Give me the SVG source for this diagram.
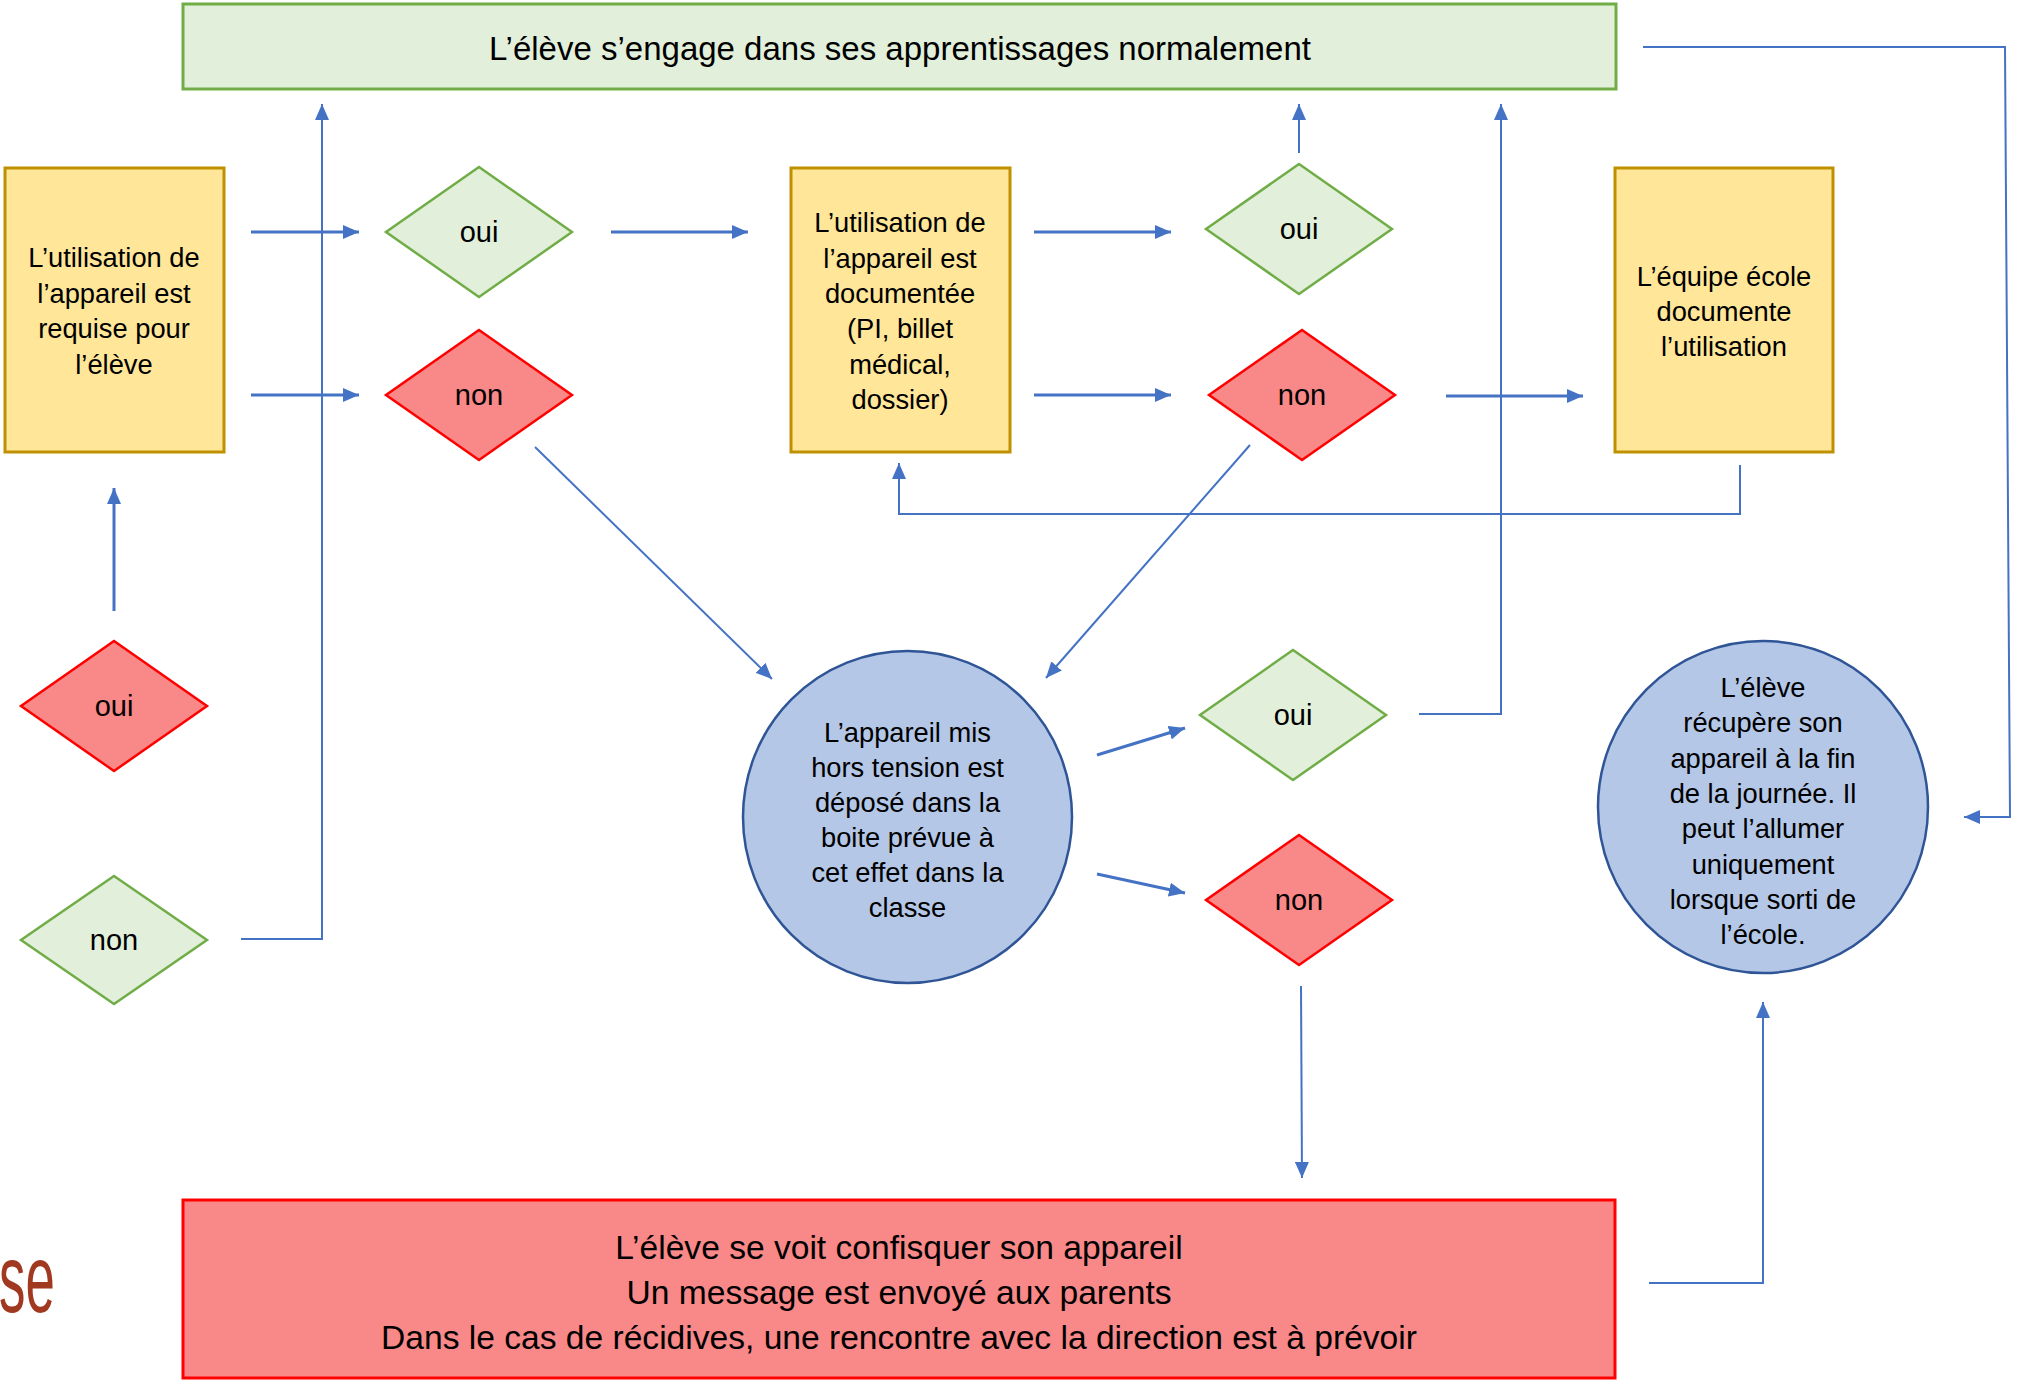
<svg xmlns="http://www.w3.org/2000/svg" width="2023" height="1383" viewBox="0 0 2023 1383">
<style>
text{font-family:"Liberation Sans",Arial,sans-serif;fill:#000;text-anchor:middle}
.t27{font-size:27.3px}
.t29{font-size:29px}
.t33{font-size:33px}
.t34{font-size:33.6px}
.gbox{fill:#E2EFDA;stroke:#70AD47;stroke-width:3}
.obox{fill:#FFE699;stroke:#BF9000;stroke-width:3}
.rbox{fill:#F98888;stroke:#FF0000;stroke-width:3}
.gd{fill:#E2EFDA;stroke:#70AD47;stroke-width:2.5}
.rd{fill:#F98888;stroke:#FF0000;stroke-width:2.5}
.el{fill:#B4C7E7;stroke:#2F5597;stroke-width:2.5}
.c{fill:none;stroke:#4472C4;stroke-width:3}
.ct{fill:none;stroke:#4472C4;stroke-width:2}
</style>
<defs>
<marker id="ah" markerUnits="userSpaceOnUse" markerWidth="16" markerHeight="14" refX="16" refY="7" orient="auto">
<path d="M0,0 L16,7 L0,14 z" fill="#4472C4"/>
</marker>
</defs>

<g id="top">
<rect class="gbox" x="183" y="4" width="1433" height="85"/>
<text class="t33" x="900" y="60">L’élève s’engage dans ses apprentissages  normalement</text>
</g>

<g id="box-requise">
<rect class="obox" x="5" y="168" width="219" height="284"/>
<text class="t27" x="114" y="267">L’utilisation de</text>
<text class="t27" x="114" y="302.5">l’appareil est</text>
<text class="t27" x="114" y="338">requise pour</text>
<text class="t27" x="114" y="373.5">l’élève</text>
</g>

<g id="box-documentee">
<rect class="obox" x="791" y="168" width="219" height="284"/>
<text class="t27" x="900" y="232">L’utilisation de</text>
<text class="t27" x="900" y="267.5">l’appareil est</text>
<text class="t27" x="900" y="303">documentée</text>
<text class="t27" x="900" y="338">(PI, billet</text>
<text class="t27" x="900" y="373.5">médical,</text>
<text class="t27" x="900" y="409">dossier)</text>
</g>

<g id="box-equipe">
<rect class="obox" x="1615" y="168" width="218" height="284"/>
<text class="t27" x="1724" y="286">L’équipe école</text>
<text class="t27" x="1724" y="321">documente</text>
<text class="t27" x="1724" y="356">l’utilisation</text>
</g>

<g id="d-oui-1">
<polygon class="gd" points="479,167 572,232 479,297 386,232"/>
<text class="t29" x="479" y="242">oui</text>
</g>
<g id="d-non-1">
<polygon class="rd" points="479,330 572,395 479,460 386,395"/>
<text class="t29" x="479" y="405">non</text>
</g>
<g id="d-oui-2">
<polygon class="gd" points="1299,164 1392,229 1299,294 1206,229"/>
<text class="t29" x="1299" y="239">oui</text>
</g>
<g id="d-non-2">
<polygon class="rd" points="1302,330 1395,395 1302,460 1209,395"/>
<text class="t29" x="1302" y="405">non</text>
</g>
<g id="d-oui-3">
<polygon class="gd" points="1293,650 1386,715 1293,780 1200,715"/>
<text class="t29" x="1293" y="725">oui</text>
</g>
<g id="d-non-3">
<polygon class="rd" points="1299,835 1392,900 1299,965 1206,900"/>
<text class="t29" x="1299" y="910">non</text>
</g>
<g id="d-oui-left">
<polygon class="rd" points="114,641 207,706 114,771 21,706"/>
<text class="t29" x="114" y="716">oui</text>
</g>
<g id="d-non-left">
<polygon class="gd" points="114,876 207,940 114,1004 21,940"/>
<text class="t29" x="114" y="950">non</text>
</g>

<g id="circle-boite">
<ellipse class="el" cx="907.5" cy="817" rx="164.5" ry="166"/>
<text class="t27" x="907.5" y="742">L’appareil mis</text>
<text class="t27" x="907.5" y="777">hors tension est</text>
<text class="t27" x="907.5" y="812">déposé dans la</text>
<text class="t27" x="907.5" y="847">boite prévue à</text>
<text class="t27" x="907.5" y="882">cet effet dans la</text>
<text class="t27" x="907.5" y="917">classe</text>
</g>

<g id="circle-recupere">
<ellipse class="el" cx="1763" cy="807" rx="165" ry="166"/>
<text class="t27" x="1763" y="697">L’élève</text>
<text class="t27" x="1763" y="732">récupère son</text>
<text class="t27" x="1763" y="767.5">appareil à la fin</text>
<text class="t27" x="1763" y="803">de la journée. Il</text>
<text class="t27" x="1763" y="838">peut l’allumer</text>
<text class="t27" x="1763" y="873.5">uniquement</text>
<text class="t27" x="1763" y="909">lorsque sorti de</text>
<text class="t27" x="1763" y="944">l’école.</text>
</g>

<g id="box-confisque">
<rect class="rbox" x="183" y="1200" width="1432" height="178"/>
<text class="t34" x="899" y="1259">L’élève se voit confisquer son appareil</text>
<text class="t34" x="899" y="1304">Un message est envoyé aux parents</text>
<text class="t34" x="899" y="1349">Dans le cas de récidives, une rencontre avec la direction est à prévoir</text>
</g>

<g id="fragment">
<text transform="translate(-1,1312) scale(0.55,1)" style="font-size:96px;fill:#A0391F;text-anchor:start">se</text>
</g>

<g id="connectors">
<path class="c" d="M251,232 L359,232" marker-end="url(#ah)"/>
<path class="c" d="M251,395 L359,395" marker-end="url(#ah)"/>
<path class="ct" d="M241,939 L322,939 L322,104" marker-end="url(#ah)"/>
<path class="c" d="M114,611 L114,488" marker-end="url(#ah)"/>
<path class="c" d="M611,232 L748,232" marker-end="url(#ah)"/>
<path class="ct" d="M535,447 L772,679" marker-end="url(#ah)"/>
<path class="c" d="M1034,232 L1171,232" marker-end="url(#ah)"/>
<path class="c" d="M1034,395 L1171,395" marker-end="url(#ah)"/>
<path class="ct" d="M1299,153 L1299,104" marker-end="url(#ah)"/>
<path class="c" d="M1446,396 L1583,396" marker-end="url(#ah)"/>
<path class="ct" d="M1419,714 L1501,714 L1501,104" marker-end="url(#ah)"/>
<path class="ct" d="M1250,445 L1046,678" marker-end="url(#ah)"/>
<path class="ct" d="M1740,465 L1740,514 L899,514 L899,463" marker-end="url(#ah)"/>
<path class="c" d="M1097,755 L1185,728" marker-end="url(#ah)"/>
<path class="c" d="M1097,874 L1185,893" marker-end="url(#ah)"/>
<path class="ct" d="M1301,986 L1302,1178" marker-end="url(#ah)"/>
<path class="ct" d="M1643,47 L2005,47 L2010,817 L1964,817" marker-end="url(#ah)"/>
<path class="ct" d="M1649,1283 L1763,1283 L1763,1002" marker-end="url(#ah)"/>
</g>
</svg>
